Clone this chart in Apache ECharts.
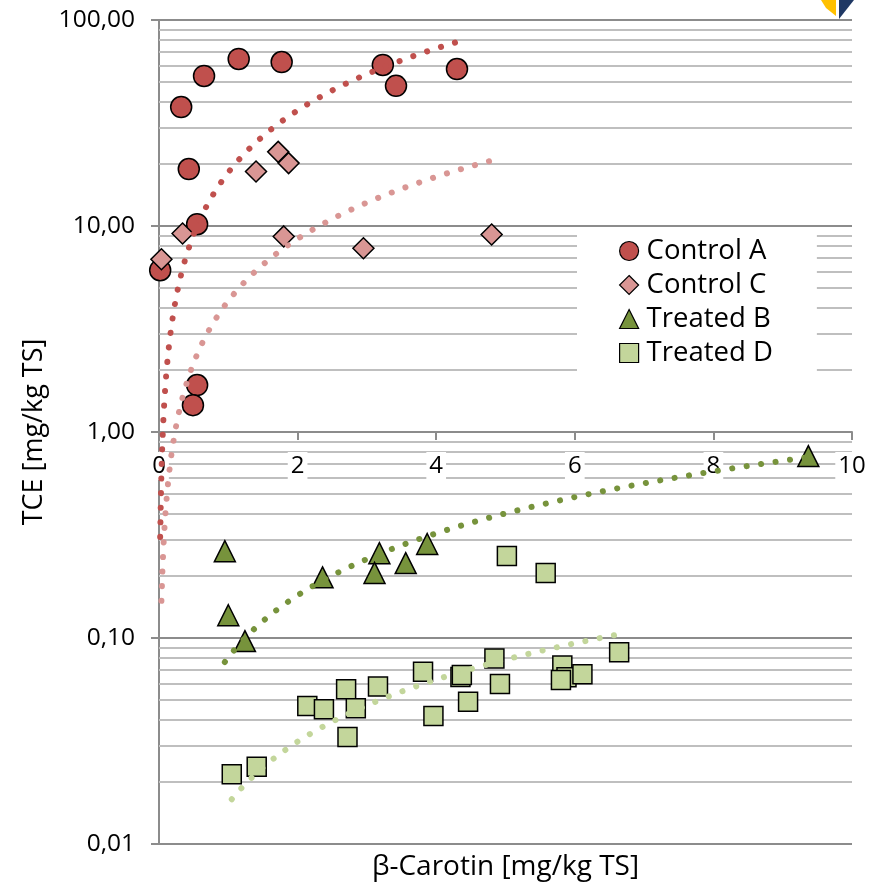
<!DOCTYPE html>
<html><head><meta charset="utf-8">
<script src="https://cdn.jsdelivr.net/npm/echarts@6/dist/echarts.min.js"></script>
<style>html,body{margin:0;padding:0;background:#fff}#c{width:872px;height:891px}</style>
</head><body><div id="c"></div>
<script>
// ---- data ----
const seriesNames = ['Control A', 'Control C', 'Treated B', 'Treated D'];

const controlA_x = [0.017, 0.32, 0.43, 0.55, 0.65, 1.15, 1.77, 3.23, 3.42, 4.30, 0.55, 0.49];
const controlA_y = [6.1, 37.8, 18.9, 10.2, 53.5, 64.7, 62.5, 60.5, 47.9, 57.8, 1.69, 1.35];

const controlC_x = [0.035, 0.34, 1.40, 1.72, 1.87, 1.80, 2.95, 4.80];
const controlC_y = [6.9, 9.2, 18.4, 22.9, 20.2, 8.9, 7.8, 9.1];

const treatedB_x = [0.95, 1.00, 1.24, 2.36, 3.18, 3.11, 3.56, 3.87, 9.37];
const treatedB_y = [0.264, 0.129, 0.0966, 0.197, 0.258, 0.207, 0.231, 0.286, 0.764];

const treatedD_x = [1.05, 1.41, 2.14, 2.38, 2.70, 2.84, 2.72, 3.16, 3.81, 3.96, 4.35, 4.37, 4.46, 4.84, 4.92, 5.82, 5.88, 5.80, 6.11, 6.64, 5.02, 5.58];
const treatedD_y = [0.0218, 0.0237, 0.0468, 0.0451, 0.0564, 0.0456, 0.0331, 0.0581, 0.0686, 0.0418, 0.0647, 0.0661, 0.0491, 0.0796, 0.0598, 0.0735, 0.0645, 0.0625, 0.0667, 0.0853, 0.250, 0.207];

// slopes of the linear trendlines (y = k * x)
const trendSlopes = [18.2, 4.33, 0.0805, 0.0157];

const xTickLabels = [0, 2, 4, 6, 8, 10];
const yDecades = [0.01, 0.1, 1, 10, 100];
const minorMultipliers = [2, 3, 4, 5, 6, 7, 8, 9];

// ---- styling ----
const FONT = '"Open Sans", sans-serif';
const colors = ['#C0504D', '#D99694', '#77933C', '#C3D69B'];
const symbols = ['circle', 'diamond', 'triangle', 'rect'];
const sizes = [21, 21, 21, 19];

const xs = [controlA_x, controlC_x, treatedB_x, treatedD_x];
const ys = [controlA_y, controlC_y, treatedB_y, treatedD_y];

const minorVals = [];
yDecades.slice(0, -1).forEach(d => minorMultipliers.forEach(m => minorVals.push(+(d * m).toPrecision(3))));

const series = [];
// minor gridlines
series.push({
  type: 'line', name: 'grid', data: [], silent: true, z: 1,
  markLine: {
    silent: true, z: 1, symbol: ['none', 'none'], label: { show: false },
    lineStyle: { color: '#BFBFBF', width: 2, type: 'solid' },
    emphasis: { disabled: true },
    data: minorVals.map(v => ({ yAxis: v }))
  }
});
// scatter series
seriesNames.forEach((n, i) => {
  series.push({
    type: 'scatter', name: n, z: 3,
    symbol: symbols[i], symbolSize: sizes[i],
    itemStyle: { color: colors[i], borderColor: '#000', borderWidth: 1.5, opacity: 1 },
    data: xs[i].map((x, j) => [x, ys[i][j]])
  });
});
// trendlines
seriesNames.forEach((n, i) => {
  const lo = Math.min(...xs[i]), hi = Math.max(...xs[i]);
  const pts = [];
  const N = 300;
  for (let s = 0; s <= N; s++) {
    const x = lo + (hi - lo) * s / N;
    pts.push([x, trendSlopes[i] * x]);
  }
  series.push({
    type: 'line', name: n + ' trend', z: 4, silent: true, symbol: 'none',
    lineStyle: { color: colors[i], width: 6, type: [0.1, 14.5], cap: 'round' },
    data: pts
  });
});

const axisGray = '#8C8C8C';
const chart = echarts.init(document.getElementById('c'), null, { renderer: 'canvas' });
chart.setOption({
  animation: false,
  backgroundColor: '#fff',
  textStyle: { fontFamily: FONT },
  grid: [
    { left: 159, right: 20, top: 20, bottom: 47, containLabel: false },
    { left: 159, right: 20, top: 20, height: 412, containLabel: false }
  ],
  xAxis: [{
    type: 'value', gridIndex: 0, min: 0, max: 10, interval: 2,
    name: 'β-Carotin [mg/kg TS]', nameLocation: 'middle', nameGap: 9,
    nameTextStyle: { fontFamily: FONT, fontSize: 28, color: '#000', verticalAlign: 'top' },
    axisLine: { show: false }, axisTick: { show: false }, axisLabel: { show: false },
    splitLine: { show: false }
  }, {
    type: 'value', gridIndex: 1, min: 0, max: 10, interval: 2, position: 'bottom', z: 2,
    axisLine: { show: true, lineStyle: { color: axisGray, width: 2 } },
    axisTick: { show: true, length: 8, lineStyle: { color: axisGray, width: 2 } },
    axisLabel: {
      show: true, margin: 20, fontFamily: FONT, fontSize: 24, color: '#000',
      backgroundColor: '#fff', padding: [2, 3, 2, 3],
      formatter: v => xTickLabels.includes(v) ? String(v) : ''
    },
    splitLine: { show: false }
  }],
  yAxis: [{
    type: 'log', gridIndex: 0, logBase: 10, min: yDecades[0], max: yDecades[yDecades.length - 1],
    z: 0,
    name: 'TCE [mg/kg TS]', nameLocation: 'middle', nameGap: 108, nameRotate: 90,
    nameTextStyle: { fontFamily: FONT, fontSize: 27, color: '#000' },
    axisLine: { show: true, lineStyle: { color: axisGray, width: 2 } },
    axisTick: { show: true, length: 8, lineStyle: { color: axisGray, width: 2 } },
    axisLabel: {
      margin: 24, fontFamily: FONT, fontSize: 24.5, color: '#000',
      formatter: v => Number(v).toFixed(2).replace('.', ',')
    },
    splitLine: { show: true, lineStyle: { color: axisGray, width: 2 } }
  }, {
    type: 'value', gridIndex: 1, min: 0, max: 1, show: false,
    axisLine: { show: false }, axisTick: { show: false }, axisLabel: { show: false }, splitLine: { show: false }
  }],
  legend: {
    data: seriesNames.map((n, i) => ({ name: n, icon: symbols[i] })),
    orient: 'vertical', left: 577, top: 230, z: 10,
    backgroundColor: '#fff', padding: [6, 44, 6, 42],
    itemWidth: 19, itemHeight: 19, itemGap: 4,
    textStyle: { fontFamily: FONT, fontSize: 27.5, color: '#000', lineHeight: 30, padding: [0, 0, 0, 3] },
    itemStyle: { borderColor: '#000', borderWidth: 1.2 },
    selectedMode: false
  },
  graphic: [
    { type: 'polygon', shape: { points: [[821, 0], [836, 0], [836, 16], [826, 8]] }, style: { fill: '#FFC000' } },
    { type: 'polygon', shape: { points: [[839, 0], [854, 0], [839, 19]] }, style: { fill: '#1F3864' } }
  ],
  series: series
});
</script>
</body></html>
